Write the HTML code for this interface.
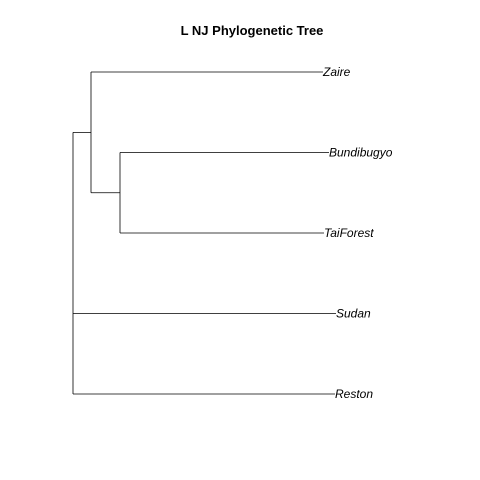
<!DOCTYPE html>
<html>
<head>
<meta charset="utf-8">
<style>
html,body{margin:0;padding:0;background:#fff;}
svg{display:block;}
text{font-family:"Liberation Sans",sans-serif;}
</style>
</head>
<body>
<svg id="chart" width="480" height="480" viewBox="0 0 480 480">
<text x="252" y="35" text-anchor="middle" font-size="13" font-weight="bold">L NJ Phylogenetic Tree</text>
<g id="tree"></g>
</svg>
<script>
// tip labels and their cumulative distances from root
const tipLabels = ["Zaire", "Bundibugyo", "TaiForest", "Sudan", "Reston"];
const tipDepths = [250, 256, 251, 263, 262];
// internal nodes: depth from root, children (indices: tips 0-4, internal "n0","n1")
const nodeNames = ["root", "n0", "n1"];
const nodeDepths = [0, 18, 47];
const nodeChildren = [["n0", 3, 4], [0, "n1"], [1, 2]];

const xScale = d => 73 + d;
const yScale = i => 72 + i * 80.5;
const g = document.getElementById('tree');
const NS = "http://www.w3.org/2000/svg";

function line(x1, y1, x2, y2, name) {
  const l = document.createElementNS(NS, 'line');
  l.setAttribute('x1', x1); l.setAttribute('y1', y1);
  l.setAttribute('x2', x2); l.setAttribute('y2', y2);
  l.setAttribute('stroke', '#000'); l.setAttribute('stroke-width', '0.8');
  
  
  g.appendChild(l);
}
function nodeY(c) {
  if (typeof c === 'number') return yScale(c);
  const idx = nodeNames.indexOf(c);
  const ys = nodeChildren[idx].map(nodeY);
  return (Math.min(...ys) + Math.max(...ys)) / 2;
}
function nodeX(c) {
  if (typeof c === 'number') return xScale(tipDepths[c]);
  return xScale(nodeDepths[nodeNames.indexOf(c)]);
}
nodeNames.forEach((n, i) => {
  const x = xScale(nodeDepths[i]);
  const ys = nodeChildren[i].map(nodeY);
  line(x, Math.min(...ys), x, Math.max(...ys), 'vertical-branch-' + n);
  nodeChildren[i].forEach(c => {
    const cy = nodeY(c);
    line(x, cy, nodeX(c), cy, 'horizontal-branch-' + (typeof c === 'number' ? tipLabels[c] : c).toLowerCase());
  });
});
tipLabels.forEach((lab, i) => {
  const t = document.createElementNS(NS, 'text');
  t.setAttribute('x', xScale(tipDepths[i]));
  t.setAttribute('y', yScale(i) + 4);
  t.setAttribute('font-size', '12');
  t.setAttribute('font-style', 'italic');
  t.textContent = lab;
  
  
  g.appendChild(t);
});
</script>
</body>
</html>
